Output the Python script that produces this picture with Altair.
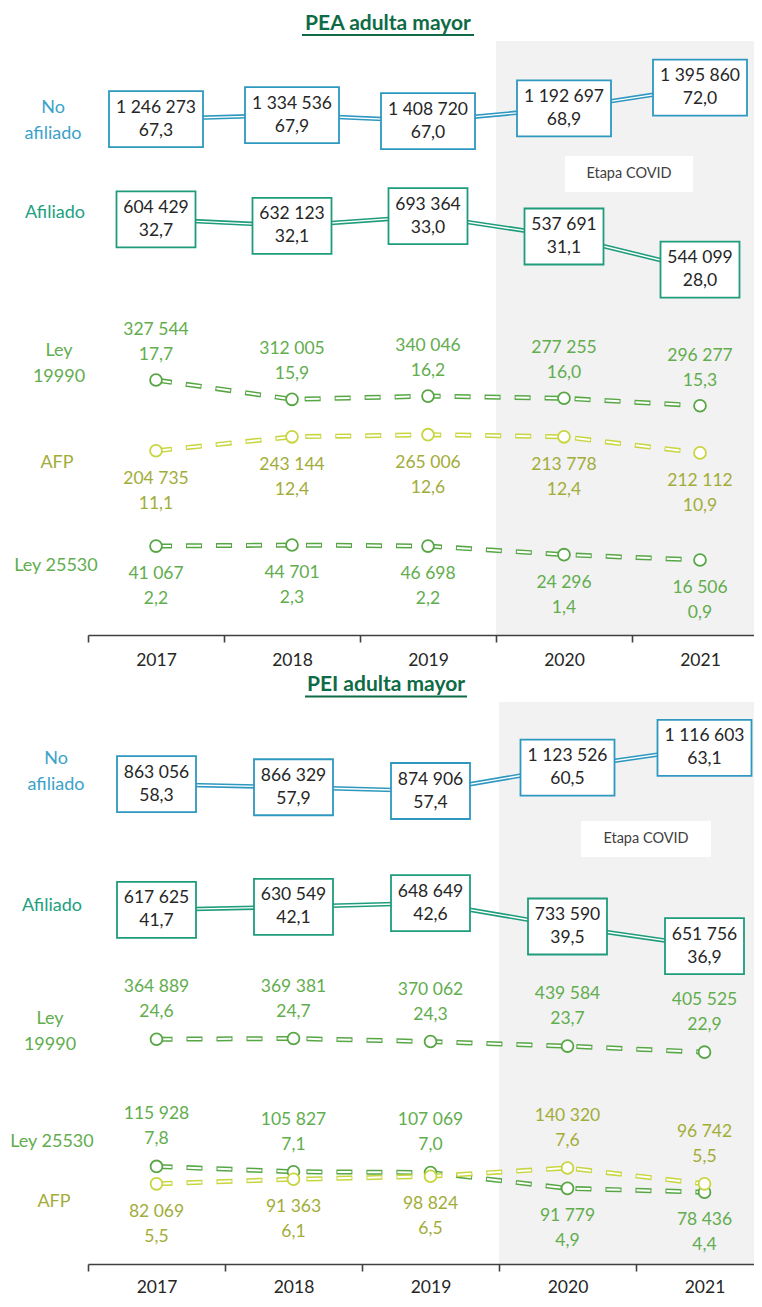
import altair as alt
import pandas as pd

# ---------------- data ----------------
YEARS = ["2017", "2018", "2019", "2020", "2021"]
COVID_START = ["2020"]

# PEA adulta mayor
PEA_NO_AFIL_N = [1246273, 1334536, 1408720, 1192697, 1395860]
PEA_NO_AFIL_PCT = [67.3, 67.9, 67.0, 68.9, 72.0]
PEA_AFIL_N = [604429, 632123, 693364, 537691, 544099]
PEA_AFIL_PCT = [32.7, 32.1, 33.0, 31.1, 28.0]
PEA_L19990_N = [327544, 312005, 340046, 277255, 296277]
PEA_L19990_PCT = [17.7, 15.9, 16.2, 16.0, 15.3]
PEA_AFP_N = [204735, 243144, 265006, 213778, 212112]
PEA_AFP_PCT = [11.1, 12.4, 12.6, 12.4, 10.9]
PEA_L25530_N = [41067, 44701, 46698, 24296, 16506]
PEA_L25530_PCT = [2.2, 2.3, 2.2, 1.4, 0.9]

# PEI adulta mayor
PEI_NO_AFIL_N = [863056, 866329, 874906, 1123526, 1116603]
PEI_NO_AFIL_PCT = [58.3, 57.9, 57.4, 60.5, 63.1]
PEI_AFIL_N = [617625, 630549, 648649, 733590, 651756]
PEI_AFIL_PCT = [41.7, 42.1, 42.6, 39.5, 36.9]
PEI_L19990_N = [364889, 369381, 370062, 439584, 405525]
PEI_L19990_PCT = [24.6, 24.7, 24.3, 23.7, 22.9]
PEI_L25530_N = [115928, 105827, 107069, 91779, 78436]
PEI_L25530_PCT = [7.8, 7.1, 7.0, 4.9, 4.4]
PEI_AFP_N = [82069, 91363, 98824, 140320, 96742]
PEI_AFP_PCT = [5.5, 6.1, 6.5, 7.6, 5.5]

# ---------------- styles / layout ----------------
FONT = "Lato"
TXT = "#262626"
AXIS_C = "#404040"
TITLE_C = "#0E6B46"
GRAY = "#F2F2F2"
COL = {
    "No afiliado": ("#2E98C0", "#3BA2C9"),
    "Afiliado": ("#1E9C7C", "#22A07F"),
    "Ley 19990": ("#56A644", "#62AD4E"),
    "AFP": ("#C8D53E", "#A2AD39"),
    "Ley 25530": ("#56A644", "#62AD4E"),
}
SIDES = {
    "PEA": {"Ley 19990": ["a"] * 5, "AFP": ["b"] * 5, "Ley 25530": ["b"] * 5},
    "PEI": {"Ley 19990": ["a"] * 5,
            "Ley 25530": ["a", "a", "a", "b", "b"],
            "AFP": ["b", "b", "b", "a", "a"]},
}


def fmt_n(n):
    return f"{n:,}".replace(",", " ")


def fmt_p(p):
    return f"{p:.1f}".replace(".", ",")


def records(panel, series_lists):
    rows = []
    for name, ns, ps in series_lists:
        side = SIDES[panel].get(name, ["a"] * 5)
        for y, n, p, s in zip(YEARS, ns, ps, side):
            rows.append({"series": name, "year": y, "pct": p,
                         "num": fmt_n(n),
                         "label": fmt_n(n) + "\n" + fmt_p(p), "side": s})
    return pd.DataFrame(rows)


PEA_DF = records("PEA", [
    ("No afiliado", PEA_NO_AFIL_N, PEA_NO_AFIL_PCT),
    ("Afiliado", PEA_AFIL_N, PEA_AFIL_PCT),
    ("Ley 19990", PEA_L19990_N, PEA_L19990_PCT),
    ("AFP", PEA_AFP_N, PEA_AFP_PCT),
    ("Ley 25530", PEA_L25530_N, PEA_L25530_PCT),
])
PEI_DF = records("PEI", [
    ("No afiliado", PEI_NO_AFIL_N, PEI_NO_AFIL_PCT),
    ("Afiliado", PEI_AFIL_N, PEI_AFIL_PCT),
    ("Ley 19990", PEI_L19990_N, PEI_L19990_PCT),
    ("Ley 25530", PEI_L25530_N, PEI_L25530_PCT),
    ("AFP", PEI_AFP_N, PEI_AFP_PCT),
])


def rect_shape(w, h):
    r = h / w
    return f"M-1,-{r:.4f}H1V{r:.4f}H-1Z"


def make_panel(df, title, W, H, dom_main, dom_no, label_pad, left_labels,
               covid_box, title_x, title_y, ul_half, ul_y, dy_above):
    axis = alt.Axis(title=None, labelAngle=0, tickBand="extent", grid=False,
                    domainColor=AXIS_C, domainWidth=1.6, tickColor=AXIS_C,
                    tickWidth=1.6, tickSize=7, labelFont=FONT,
                    labelFontSize=17.5, labelColor=TXT, labelPadding=label_pad)
    xscale = alt.Scale(type="band", domain=YEARS, paddingInner=0, paddingOuter=0)
    X = alt.X("year:N", title=None, axis=axis, scale=xscale)

    def Y(dom):
        return alt.Y("pct:Q", axis=None,
                     scale=alt.Scale(domain=dom, nice=False, zero=False))

    layers = []
    covid = alt.Chart(pd.DataFrame({"year": COVID_START})).mark_rect(
        color=GRAY).encode(
        x=alt.X("year:N", title=None, axis=axis, scale=xscale, bandPosition=0),
        x2=alt.value(W))
    layers.append(covid)

    ann = pd.DataFrame({"t": ["Etapa COVID"]})
    x0, x1, y0, y1 = covid_box
    layers.append(alt.Chart(ann).mark_rect(color="white").encode(
        x=alt.value(x0), x2=alt.value(x1), y=alt.value(y0), y2=alt.value(y1)))
    layers.append(alt.Chart(ann).mark_text(
        font=FONT, fontSize=14.5, color=AXIS_C).encode(
        text="t:N", x=alt.value((x0 + x1) / 2), y=alt.value((y0 + y1) / 2)))

    base = alt.Chart(df)
    for s in df["series"].unique():
        lc, tc = COL[s]
        dom = dom_no if s == "No afiliado" else dom_main
        sub = base.transform_filter(alt.datum.series == s)
        enc = dict(x=X, y=Y(dom))
        if s in ("No afiliado", "Afiliado"):
            layers.append(sub.mark_line(color=lc, strokeWidth=4.5).encode(**enc))
            layers.append(sub.mark_line(color="white", strokeWidth=1.4).encode(**enc))
            for w, cond in ((94, "length(datum.num) > 7"),
                            (79, "length(datum.num) <= 7")):
                layers.append(sub.transform_filter(cond).mark_point(
                    shape=rect_shape(w, 56), size=w * w, filled=True,
                    fill="white", stroke=lc, strokeWidth=1.8, opacity=1
                ).encode(**enc))
            layers.append(sub.mark_text(
                font=FONT, fontSize=17.5, color=TXT, lineBreak="\n",
                lineHeight=23, baseline="middle", dy=-11.5).encode(
                text="label:N", **enc))
        else:
            layers.append(sub.mark_line(
                color=lc, strokeWidth=5, strokeDash=[16, 14]).encode(**enc))
            layers.append(sub.mark_line(
                color="white", strokeWidth=2, strokeDash=[14, 16],
                strokeDashOffset=-1).encode(**enc))
            layers.append(sub.mark_point(
                shape="circle", size=140, filled=True, fill="white",
                stroke=lc, strokeWidth=1.8, opacity=1).encode(**enc))
            for side, dy in (("a", dy_above), ("b", 28)):
                layers.append(sub.transform_filter(alt.datum.side == side).mark_text(
                    font=FONT, fontSize=17.5, color=tc, lineBreak="\n",
                    lineHeight=25, baseline="middle", dy=dy
                ).encode(text="label:N", **enc))

    for text, key, lx, ly in left_labels:
        layers.append(alt.Chart(pd.DataFrame({"t": [text]})).mark_text(
            font=FONT, fontSize=18, color=COL[key][1], lineBreak="\n",
            lineHeight=26, baseline="middle").encode(
            text="t:N", x=alt.value(lx), y=alt.value(ly)))

    tdf = pd.DataFrame({"t": [title]})
    layers.append(alt.Chart(tdf).mark_text(
        font=FONT, fontSize=21, fontWeight="bold", color=TITLE_C,
        baseline="alphabetic").encode(
        text="t:N", x=alt.value(title_x), y=alt.value(title_y)))
    layers.append(alt.Chart(tdf).mark_rule(color=TITLE_C, strokeWidth=2).encode(
        x=alt.value(title_x - ul_half), x2=alt.value(title_x + ul_half),
        y=alt.value(ul_y)))

    return alt.layer(*layers).resolve_scale(y="independent").properties(
        width=W, height=H)


pea = make_panel(
    PEA_DF, "PEA adulta mayor", 680, 594,
    [-6.1, 49.35], [-9.76, 78.96], 9,
    [("No\nafiliado", "No afiliado", -35, 67),
     ("Afiliado", "Afiliado", -33, 172),
     ("Ley\n19990", "Ley 19990", -29, 310),
     ("AFP", "AFP", -31, 422),
     ("Ley 25530", "Ley 25530", -32, 525)],
    (477, 605, 115, 151), 300, -11, 86, -6, -50)

pei = make_panel(
    PEI_DF, "PEI adulta mayor", 685, 562,
    [-5.09, 69.16], [-5.09, 69.16], 7,
    [("No\nafiliado", "No afiliado", -32, 57),
     ("Afiliado", "Afiliado", -36, 204),
     ("Ley\n19990", "Ley 19990", -38, 317),
     ("Ley 25530", "Ley 25530", -36, 440),
     ("AFP", "AFP", -34, 500)],
    (493, 623, 119, 155), 298, -11, 81, -5.5, -52)

chart = alt.vconcat(pea, pei, spacing=67, bounds="flush").resolve_scale(
    x="independent").properties(
    autosize=alt.AutoSizeParams(type="none"),
    padding={"left": 80, "top": 33, "right": 666, "bottom": 1258}
).configure_view(strokeWidth=0)

chart.save("out.html", embed_options={"renderer": "svg", "actions": False})
